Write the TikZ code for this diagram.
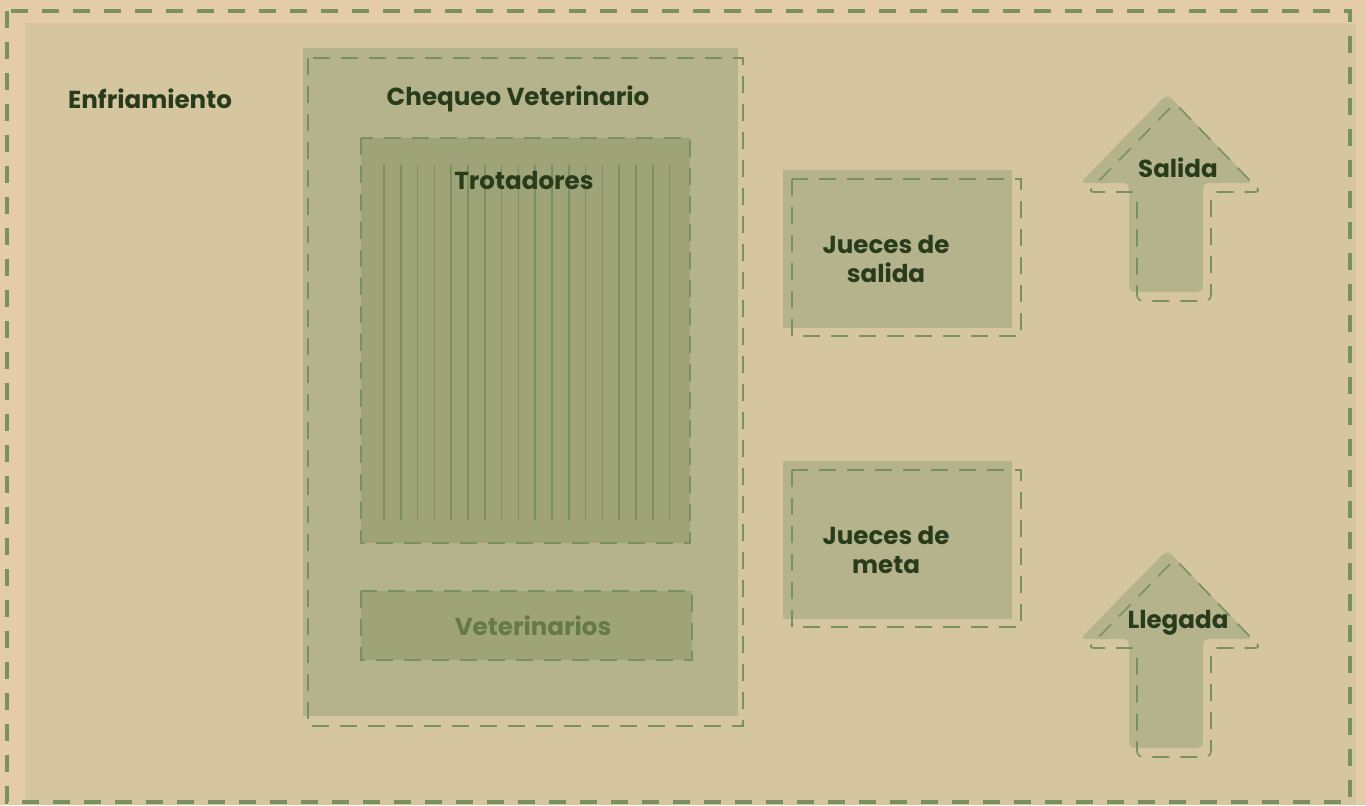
\documentclass[tikz,border=0pt]{standalone}
\usepackage{fontspec}
\setmainfont{Poppins}
\usepackage{tikz}
\usetikzlibrary{positioning}

\definecolor{paper}{HTML}{E4CCA8}
\definecolor{ground}{HTML}{D6C6A0}
\definecolor{zonefill}{HTML}{B5B38B}
\definecolor{innerfill}{HTML}{9FA378}
\definecolor{dashgreen}{HTML}{7A9060}
\definecolor{textgreen}{HTML}{283C1B}
\definecolor{mutedgreen}{HTML}{667A49}

\begin{document}
\begin{tikzpicture}[x=0.5pt, y=-0.5pt,
		zonelabel/.style={font=\bfseries\fontsize{12.3}{14.5}\selectfont, text=textgreen, align=center},
		thindash/.style={draw=dashgreen, line width=0.8pt, dash pattern=on 8.5pt off 5.5pt},
		trotline/.style={draw=dashgreen, line width=0.75pt}]
				
				% Paper and ground of the whole area
				\fill[paper] (0,0) rectangle (1366,805);
				\fill[ground] (25,23) rectangle (1356,805);
				\useasboundingbox (0,0) rectangle (1366,805);
				
				% Outer dashed border
				\draw[dashgreen, line width=1.7pt, dash pattern=on 8.5pt off 7pt] (7,11) rectangle (1350,802);
				
				% Cooling zone (only a label)
				\node[zonelabel] (enfriamiento) at (150,99) {Enfriamiento};
				
				% Vet check zone, with its offset dashed frame
				\fill[zonefill] (303,48) rectangle (738,716);
				\draw[thindash] (308,58) rectangle (743,726);
				\node[zonelabel] (chequeo) at (518,99) {Chequeo Veterinario};
				
				% Trotting lane with its stripes
				\fill[innerfill] (361,138) rectangle (690,543);
				\foreach \i in {0,...,17}
				\draw[trotline] ({384+16.8*\i},165) -- ({384+16.8*\i},520);
				\draw[thindash] (361,138) rectangle (690,543);
				\node[zonelabel] (trotadores) at (524,180) {Trotadores};
				
				% Vets
				\fill[innerfill] (361,591) rectangle (692,660);
				\draw[thindash] (361,591) rectangle (692,660);
				\node[zonelabel, text=mutedgreen] (veterinarios) at (533,626) {Veterinarios};
				
				% Judges boxes
				\fill[zonefill] (783,170) rectangle (1012,328);
				\draw[thindash] (792,179) rectangle (1021,336);
				\node[zonelabel] (juecessalida) at (886,259) {Jueces de\\salida};
				
				\fill[zonefill] (783,461) rectangle (1012,619);
				\draw[thindash] (792,470) rectangle (1021,627);
				\node[zonelabel] (juecesmeta) at (886,550) {Jueces de\\meta};
				
				% Start arrow (fill, then dashed copy shifted)
				\def\arrowpath{(1167,94) -- (1253,183) -- (1203,183) -- (1203,292) -- (1129,292) -- (1129,183) -- (1080,183) -- cycle}
				\fill[zonefill, rounded corners=3pt] \arrowpath;
				\draw[thindash, rounded corners=3pt, shift={(8,9)}] \arrowpath;
				\node[zonelabel] (salida) at (1178,168) {Salida};
				
				% Finish arrow, same shape lower down
				\begin{scope}[shift={(0,456)}]
					\fill[zonefill, rounded corners=3pt] \arrowpath;
					\draw[thindash, rounded corners=3pt, shift={(8,9)}] \arrowpath;
				\end{scope}
				\node[zonelabel] (llegada) at (1178,623) {Llegada};
				
			\end{tikzpicture}
\end{document}
